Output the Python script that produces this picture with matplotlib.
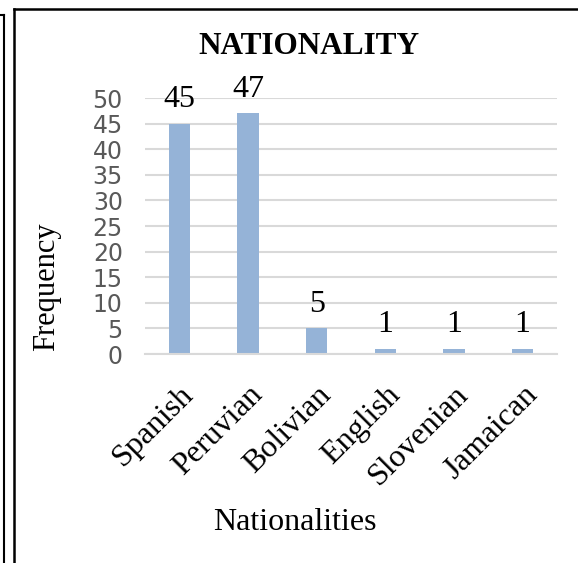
import matplotlib
matplotlib.use("Agg")
import matplotlib.pyplot as plt
from matplotlib.lines import Line2D

categories = ["Spanish", "Peruvian", "Bolivian", "English", "Slovenian", "Jamaican"]
frequency = [45, 47, 5, 1, 1, 1]
yticks = [0, 5, 10, 15, 20, 25, 30, 35, 40, 45, 50]

W, H = 578, 563
fig = plt.figure(figsize=(W / 100, H / 100), dpi=100)

serif = ["Liberation Serif", "DejaVu Serif"]

# page frame lines
def px_line(x0, y0, x1, y1, lw=2.0):
    fig.add_artist(Line2D([x0 / W, x1 / W], [1 - y0 / H, 1 - y1 / H],
                          transform=fig.transFigure, color="black", lw=lw))

px_line(0, 15, 4, 15, 1.5)
px_line(4, 15, 4, H, 1.5)
px_line(14, 8.5, W, 8.5, 1.8)
px_line(14, 8.5, 14, H, 1.8)

left, right, top, bottom = 145, 557, 98, 354
ax = fig.add_axes([left / W, 1 - bottom / H, (right - left) / W, (bottom - top) / H])

x = list(range(len(categories)))
ax.bar(x, frequency, width=0.31, color="#95b3d7", zorder=2)
for xi, v in zip(x, frequency):
    ax.annotate(str(v), (xi, v), xytext=(0, 7), textcoords="offset points",
                ha="center", va="bottom", fontsize=23, family=serif,
                color="black", annotation_clip=False)

ax.set_xlim(-0.5, len(categories) - 0.5)
ax.set_ylim(0, 50)
ax.set_yticks(yticks)
ax.yaxis.grid(True, color="#d9d9d9", lw=1.5, zorder=0)
ax.set_axisbelow(True)
for s in ["top", "right", "left"]:
    ax.spines[s].set_visible(False)
ax.spines["bottom"].set_color("#d9d9d9")
ax.spines["bottom"].set_linewidth(1.5)
ax.tick_params(axis="both", length=0)
ax.tick_params(axis="y", labelsize=17, labelcolor="#595959", pad=16)

ax.set_xticks(x)
ax.set_xticklabels(categories, rotation=45, ha="right", rotation_mode="anchor",
                   fontsize=23, family=serif)
ax.tick_params(axis="x", pad=19)

fig.text(309 / W, 1 - 47 / H, "NATIONALITY", ha="center", va="center",
         fontsize=22.5, fontweight="bold", family=serif)
fig.text(47 / W, 1 - 287 / H, "Frequency", ha="center", va="center",
         rotation=90, fontsize=22, family=serif)
fig.text(295 / W, 1 - 522 / H, "Nationalities", ha="center", va="center",
         fontsize=23, family=serif)

fig.savefig("out.png", dpi=100, facecolor="white")
